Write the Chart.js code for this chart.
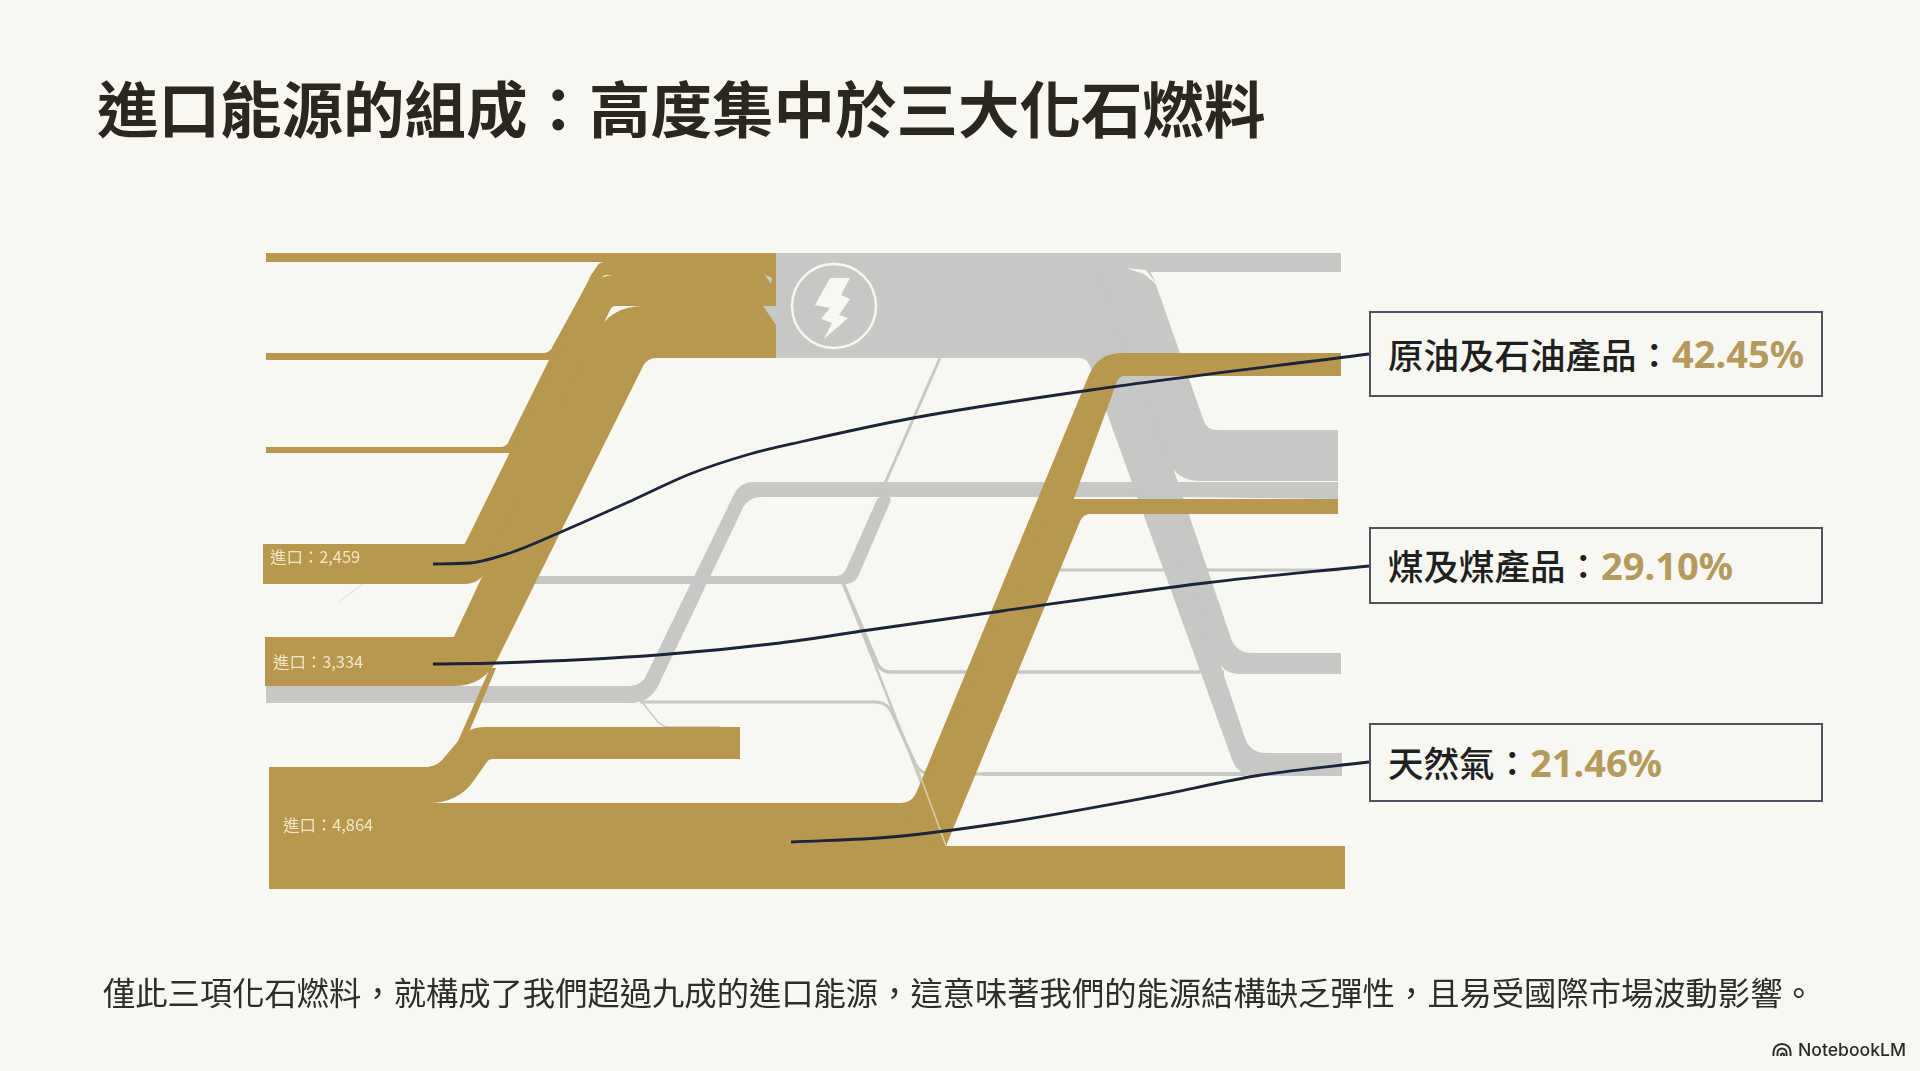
<!DOCTYPE html>
<html lang="zh-Hant"><head><meta charset="utf-8">
<script src="https://cdn.jsdelivr.net/npm/chart.js@4/dist/chart.umd.js"></script>
<style>
html,body{margin:0;padding:0;width:1920px;height:1071px;overflow:hidden;background:#f8f7f2;font-family:"Noto Sans CJK TC","Noto Sans",sans-serif}
#c{position:absolute;left:0;top:0}
.t{position:absolute;white-space:nowrap}
#title{left:97px;top:67px;font-size:61.5px;line-height:80px;font-weight:700;color:#2b2720}
#note{left:103px;top:968px;font-size:32.3px;line-height:46px;color:#2d2d2b}
.box{position:absolute;left:1369px;width:450px;border:2px solid #4c5362;box-sizing:content-box;background:#f8f7f2;display:flex;align-items:center;padding-left:0}
.box span{position:relative;top:-1px}
.box span.l{margin-left:17px;font-size:35.5px;font-weight:500;color:#1f1f1f;white-space:nowrap}
.box span.v{font-size:38px;font-weight:700;color:#b59a5e;white-space:nowrap;font-family:"Noto Sans","Noto Sans CJK TC",sans-serif}
#brand{left:1798px;top:1039px;font:500 17.6px/22px Inter,Roboto,sans-serif;color:#2a2a2a}
#brandIcon{position:absolute;left:1772px;top:1043px}
</style></head><body>
<canvas id="c" width="1920" height="1071"></canvas>
<div class="t" id="title">進口能源的組成：高度集中於三大化石燃料</div>
<div class="box" style="top:311px;height:82px"><span class="l">原油及石油產品：</span><span class="v">42.45%</span></div>
<div class="box" style="top:527px;height:73px"><span class="l">煤及煤產品：</span><span class="v">29.10%</span></div>
<div class="box" style="top:723px;height:75px"><span class="l">天然氣：</span><span class="v">21.46%</span></div>
<div class="t" id="note">僅此三項化石燃料，就構成了我們超過九成的進口能源，這意味著我們的能源結構缺乏彈性，且易受國際市場波動影響。</div>
<svg id="brandIcon" width="20" height="14" viewBox="0 0 20 14"><path d="M1.5 13 V9 A8.5 8 0 0 1 18.5 9 V13 M5.5 13 V10 A4.5 4.5 0 0 1 14.5 10 V13 M9 13 V12 A1.5 1.5 0 0 1 12 12 V13" fill="none" stroke="#2a2a2a" stroke-width="2"/></svg>
<div class="t" id="brand">NotebookLM</div>
<script>
/* Sankey bands: [x, y, corner] on a 1920 x 1071 value plane */
const importLabels = ['進口：2,459', '進口：3,334', '進口：4,864'];
const importLabelAnchors = [[270, 557], [273, 662], [283, 825]];

const greyBlock = [[776,253,0],[1100,253,0],[1100,358,0],[776,358,0]];
const greyTop = [[776,253,0],[1341,253,0],[1341,272,0],[776,272,0]];
const greyWide = [[776,262,0],[1148,262,20],[1207,430,10],[1338,430,0],[1338,481,0],[1176,481,24],[1098,272,0],[776,272,0]];
const greyMid = [[776,262,0],[1103,262,0],[1236,653,16],[1341,653,0],[1341,674,0],[1222,674,18],[1090,300,0],[776,300,0]];
const greyLow = [[776,330,0],[1108,330,0],[1250,753,16],[1342,753,0],[1342,776,0],[1238,776,18],[1087,358,8],[776,358,0]];
const greyLeft = [[266,686,0],[641,686,12],[740,482,14],[1200,482,0],[1338,482,0],[1338,499,0],[1180,497,0],[748,497,14],[650,703,20],[266,703,0]];
const greyMidBar = [[530,576,0],[843,576,8],[878,497,4],[892,497,4],[855,584,10],[530,584,0]];
const greySlit = [[1126,268,0],[1146,270,0],[1158,286,0],[1144,274,0]];

const thinUp = [[879,497,0],[940,358,0]];
const thinDownA = [[843,583,8],[881,672,10],[1224,672,0]];
const thinDownB = [[843,583,0],[946,846,0]];
const thinLower = [[640,702,0],[887,702,12],[920,774,12],[1246,774,0]];
const thinGoldTop = [[642,702,0],[662,727,8],[720,727,0]];
const thinFaint = [[340,601,0],[372,577,0]];
const thinRight = [[1040,570,0],[1340,570,0]];
const thinRightLow = [[983,774,0],[1246,774,0]];
const thinCross = [[917,767,0],[946,846,0]];

const goldRoof = [[266,253,0],[776,253,0],[776,262,0],[266,262,0]];
const goldFeedA = [[266,353,0],[549,353,6],[599,262,6],[776,262,0],[776,269,0],[607,269,6],[558,360,6],[266,360,0]];
const goldFeedB = [[266,447,0],[506,447,6],[594,269,6],[776,269,0],[776,275,0],[602,275,6],[516,453,6],[266,453,0]];
const goldFeedC = [[263,544,0],[465,544,2],[597,275,18],[776,275,0],[776,306,0],[612,306,4],[480,584,16],[263,584,0]];
const goldFeedD = [[265,637,0],[454,637,2],[609,306,34],[776,306,0],[776,358,0],[647,358,10],[484,686,30],[265,686,0]];
const goldStrip = [[269,767,0],[436,767,10],[455,748,6],[490,668,0],[496,668,0],[469,732,0],[460,790,0],[269,790,0]];
const goldShelf = [[269,767,0],[436,767,10],[470,727,14],[740,727,0],[740,759,0],[489,759,4],[458,803,30],[269,803,0]];
const goldRoot = [[269,803,0],[930,803,0],[930,889,0],[269,889,0]];
const goldBody = [[269,803,0],[912,803,12],[1098,353,24],[1341,353,0],[1341,376,0],[1119,376,6],[946,846,0],[269,846,0]];
const goldBranch = [[900,830,0],[1060,499,12],[1338,499,0],[1338,514,0],[1083,514,8],[946,846,0]];
const goldBaseBody = [[269,846,0],[1345,846,0],[1345,889,0],[269,889,0]];
const goldHead = [[640,253,0],[776,253,0],[776,358,0],[640,358,0]];

const notchA = [[763,306,0],[776,306,0],[776,325,0]];
const notchB = [[764,274,0],[772,278,0],[771,284,0]];

const boltOutline = [[830,278,0],[850,278,0],[841,295,0],[850,299,0],[839,315,0],[848,318,0],[824,339,0],[832,323,0],[821,319,0],[830,308,0],[815,305,0]];
const boltRing = [[834,306]];

const leaderOil = [[433,564],[470,563],[510,553],[561,532],[633,500],[690,474],[750,454],[800,442],[913,418],[1091,390],[1369,354]];
const leaderCoal = [[433,664],[497,663],[658,655],[780,643],[869,630],[1002,611],[1205,583],[1369,566]];
const leaderGas = [[791,842],[891,837],[1002,823],[1150,797],[1261,775],[1369,762]];

const GOLD = '#b8984f', GREY = '#c7c7c6', PAPER = '#f8f7f2', NAVY = '#1b2439';
const greyBands = [greyBlock, greyLeft, greyMidBar, greyLow, greyMid, greyWide, greyTop];
const thinLines = [[thinUp,3,GREY],[thinDownA,3.5,GREY],[thinDownB,2.5,GREY],[thinLower,3,GREY],[thinGoldTop,1.5,GREY],[thinFaint,1,'#dcdcd6'],[thinRight,3,GREY],[thinRightLow,4,GREY]];
const goldBands = [goldRoof, goldFeedA, goldFeedB, goldFeedC, goldFeedD, goldStrip, goldShelf, goldRoot, goldBaseBody, goldBody, goldBranch, goldHead];

/* round each outline corner by its own radius */
function outline(points, closed) {
  const out = [], n = points.length;
  points.forEach((p, i) => {
    const r = p[2] || 0;
    const isEnd = !closed && (i === 0 || i === n - 1);
    if (!r || isEnd) { out.push({x: p[0], y: p[1]}); return; }
    const a = points[(i - 1 + n) % n], b = points[(i + 1) % n];
    const la = Math.hypot(a[0]-p[0], a[1]-p[1]), lb = Math.hypot(b[0]-p[0], b[1]-p[1]);
    const ra = Math.min(r, la/2), rb = Math.min(r, lb/2);
    const s = [p[0]+(a[0]-p[0])*ra/la, p[1]+(a[1]-p[1])*ra/la];
    const e = [p[0]+(b[0]-p[0])*rb/lb, p[1]+(b[1]-p[1])*rb/lb];
    for (let k = 0; k <= 8; k++) {
      const t = k/8, u = 1-t;
      out.push({x: u*u*s[0]+2*u*t*p[0]+t*t*e[0], y: u*u*s[1]+2*u*t*p[1]+t*t*e[1]});
    }
  });
  if (closed) out.push({...out[0]});
  return out;
}
const shape = (pts, color) => ({data: outline(pts, true), fill: 'shape', backgroundColor: color, borderWidth: 0, pointRadius: 0, tension: 0, showLine: true});
const stroke = (pts, w, color) => ({data: outline(pts, false), fill: false, borderColor: color, borderWidth: w, pointRadius: 0, tension: 0, showLine: true, borderJoinStyle: 'round'});
const leader = pts => ({data: pts.map(p => ({x: p[0], y: p[1]})), fill: false, borderColor: NAVY, borderWidth: 2.8, pointRadius: 0, cubicInterpolationMode: 'monotone', showLine: true, borderCapStyle: 'butt'});

const layers = [
  ...greyBands.map(b => shape(b, GREY)),
  shape(greySlit, PAPER),
  ...thinLines.map(([p, w, c]) => stroke(p, w, c)),
  ...goldBands.map(b => shape(b, GOLD)),
  stroke(thinCross, 1.5, '#d9cfa9'),
  shape(notchA, GREY), shape(notchB, GREY),
  shape(boltOutline, PAPER),
  {data: boltRing.map(p => ({x: p[0], y: p[1]})), showLine: false, pointRadius: 42, pointBackgroundColor: 'rgba(0,0,0,0)', pointBorderColor: PAPER, pointBorderWidth: 2.4},
  leader(leaderOil), leader(leaderCoal), leader(leaderGas)
];
layers.forEach((d, i) => { d.order = layers.length - i; });

const nodeLabels = {
  id: 'nodeLabels',
  afterDatasetsDraw(chart) {
    const {ctx, scales: {x, y}} = chart;
    ctx.save();
    ctx.font = '16.4px "Noto Sans CJK TC"';
    ctx.fillStyle = '#f3e7c4';
    ctx.textBaseline = 'middle';
    importLabels.forEach((t, i) => ctx.fillText(t, x.getPixelForValue(importLabelAnchors[i][0]), y.getPixelForValue(importLabelAnchors[i][1])));
    ctx.restore();
  }
};

new Chart(document.getElementById('c'), {
  type: 'scatter',
  data: {datasets: layers},
  options: {
    responsive: false, animation: false, events: [],
    layout: {padding: 0, autoPadding: false},
    plugins: {legend: {display: false}, tooltip: {enabled: false}, title: {display: false}},
    scales: {
      x: {type: 'linear', min: 0, max: 1920, display: false},
      y: {type: 'linear', min: 0, max: 1071, reverse: true, display: false}
    }
  },
  plugins: [nodeLabels]
});
</script>
</body></html>
